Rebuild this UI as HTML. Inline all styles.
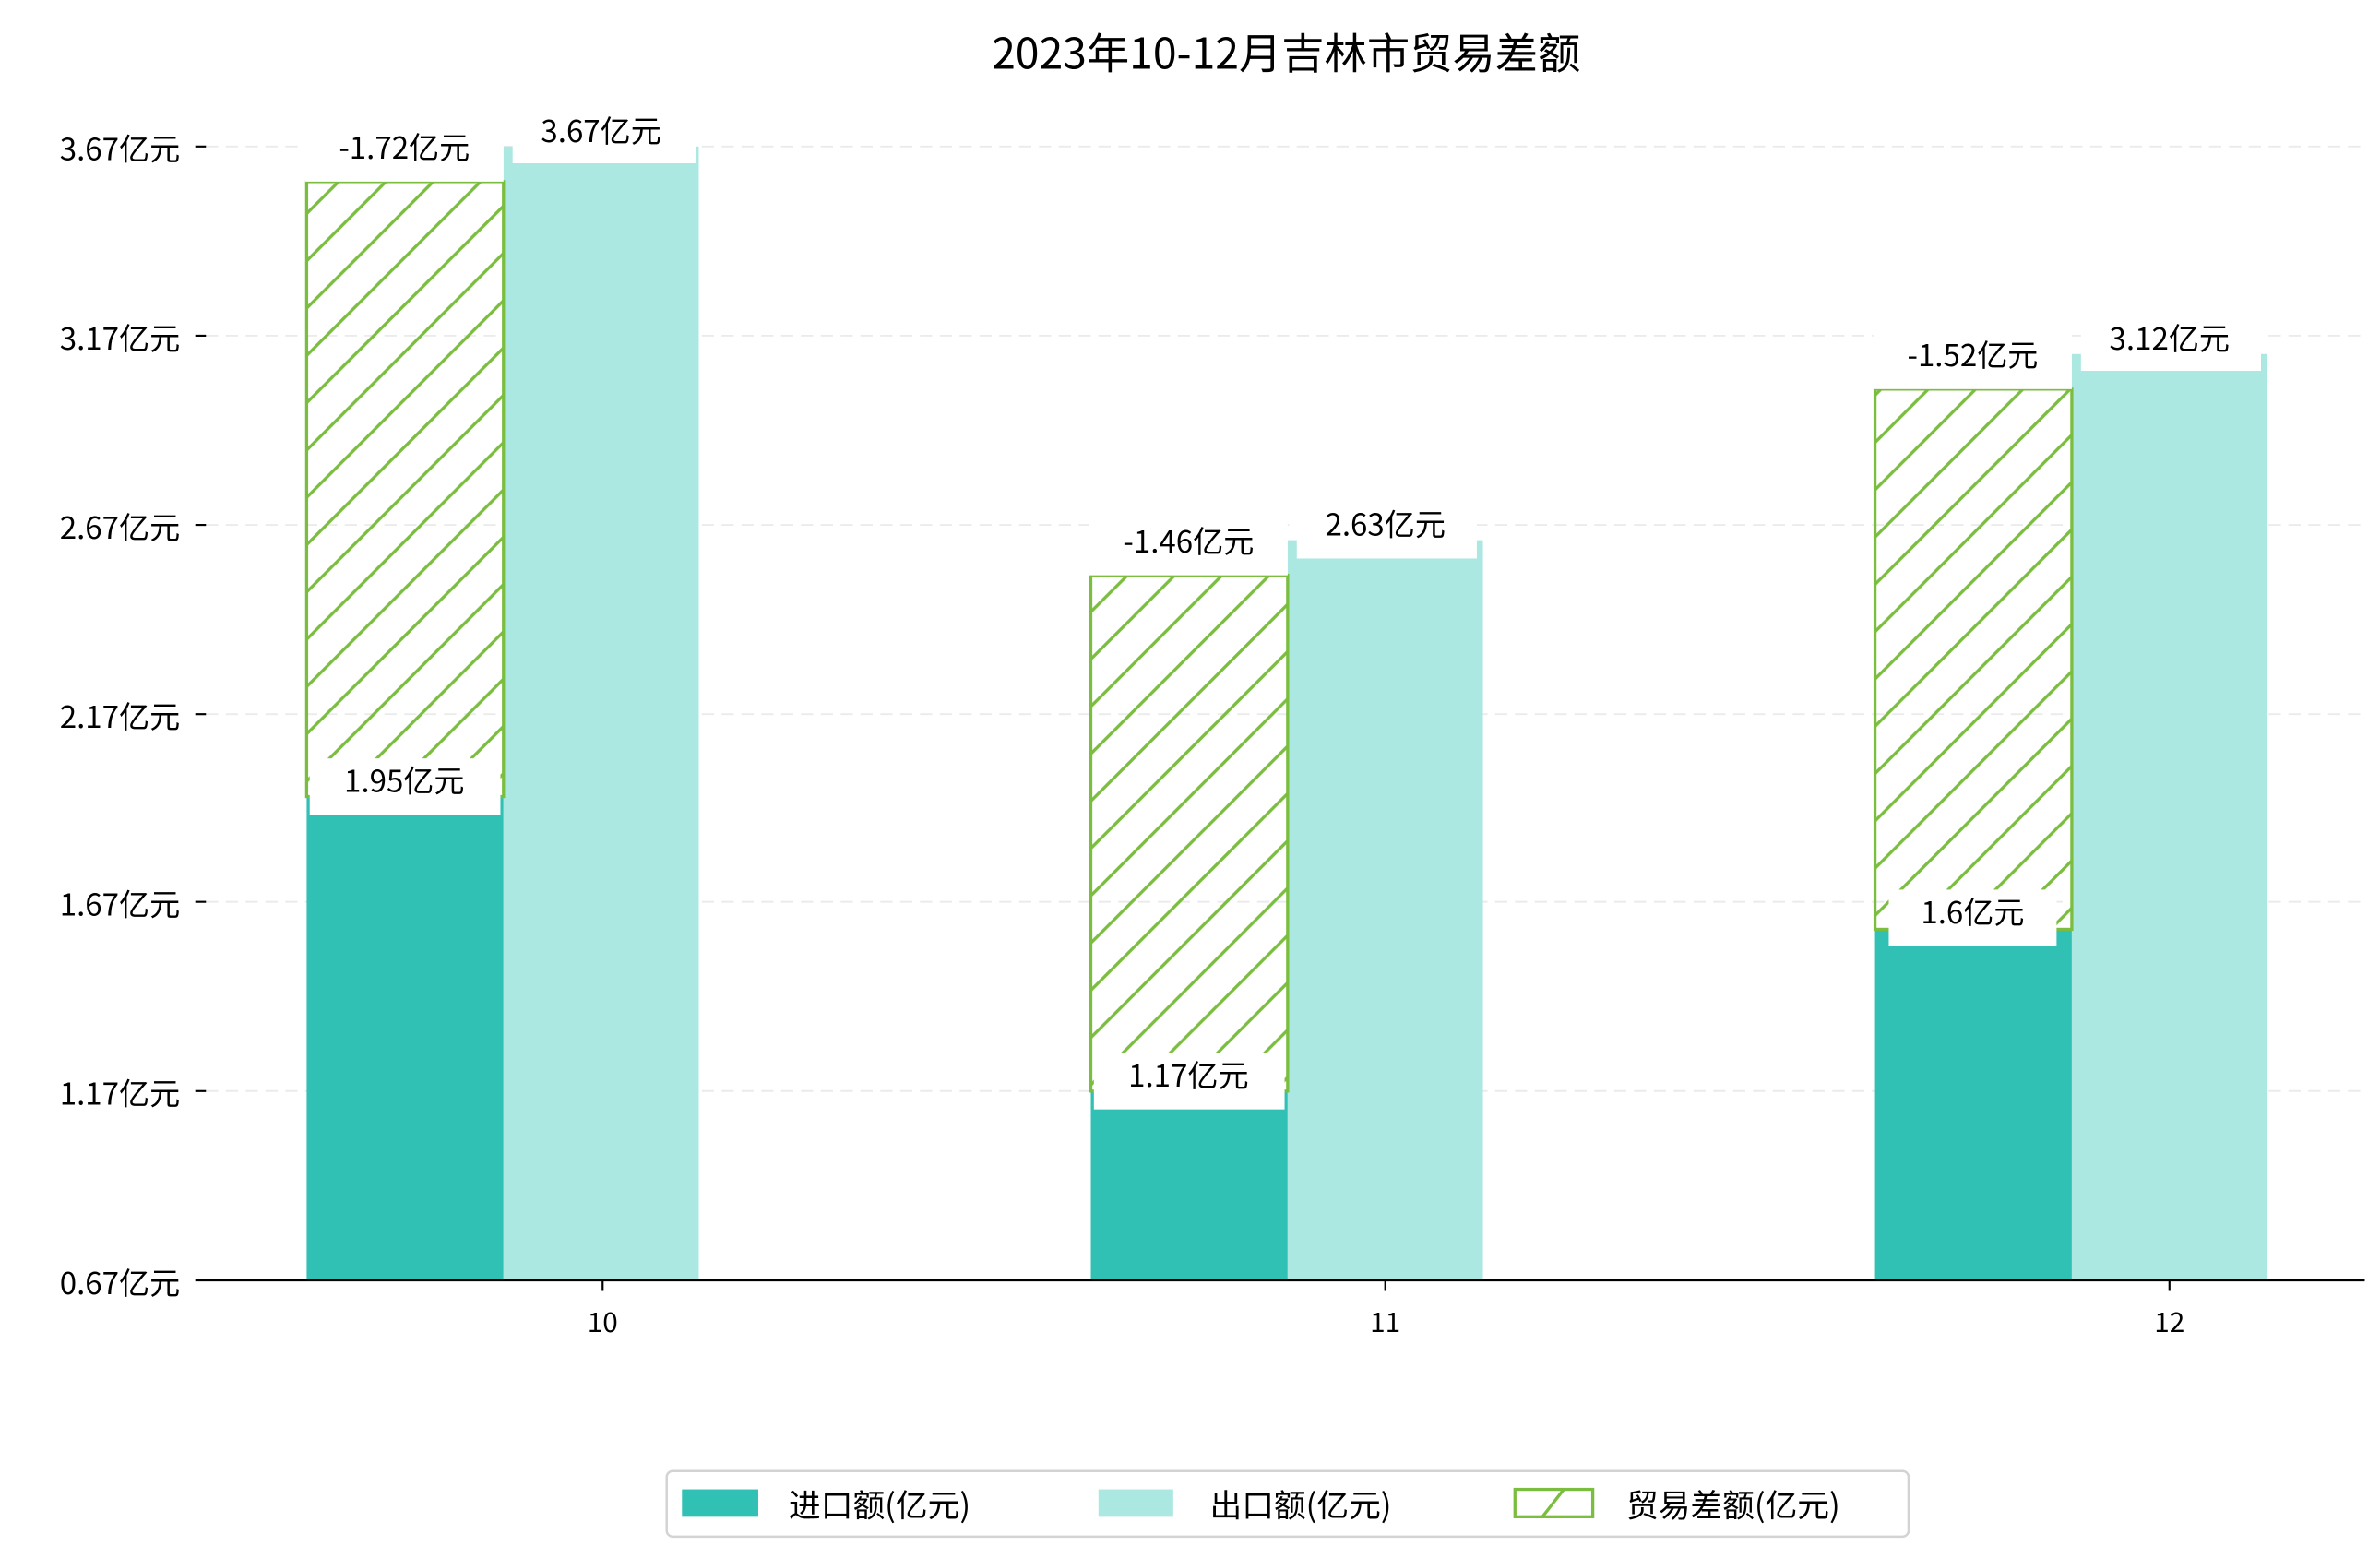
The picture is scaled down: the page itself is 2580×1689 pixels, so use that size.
<!DOCTYPE html>
<html><head><meta charset="utf-8"><style>
html,body{margin:0;padding:0;background:#fff;}
svg{display:block;}
text{font-family:"WenQuanYi Zen Hei","Noto Sans CJK SC",sans-serif;fill:#000;}
</style></head><body>
<svg width="2580" height="1689" viewBox="0 0 1560 1021" preserveAspectRatio="none" xmlns="http://www.w3.org/2000/svg">
<defs>
<pattern id="h" patternUnits="userSpaceOnUse" width="31" height="31">
<path d="M-4,35 L35,-4 M-4,4 L4,-4 M27,35 L35,27" stroke="#7abd3f" stroke-width="2"/>
</pattern>
</defs>
<text x="843" y="45" font-size="28" text-anchor="middle">2023年10-12月吉林市贸易差额</text>
<g stroke="#ebebeb" stroke-width="1.2" stroke-dasharray="8,5">
<line x1="135" y1="96" x2="1550" y2="96"/><line x1="135" y1="220" x2="1550" y2="220"/>
<line x1="135" y1="344" x2="1550" y2="344"/><line x1="135" y1="468" x2="1550" y2="468"/>
<line x1="135" y1="591" x2="1550" y2="591"/><line x1="135" y1="715" x2="1550" y2="715"/>
</g>
<g font-size="20" text-anchor="end">
<text x="118" y="105">3.67亿元</text><text x="118" y="229">3.17亿元</text>
<text x="118" y="353">2.67亿元</text><text x="118" y="477">2.17亿元</text>
<text x="118" y="600">1.67亿元</text><text x="118" y="724">1.17亿元</text>
<text x="118" y="848">0.67亿元</text>
</g>
<g stroke="#000" stroke-width="1.3">
<line x1="128" y1="96" x2="135" y2="96"/><line x1="128" y1="220" x2="135" y2="220"/>
<line x1="128" y1="344" x2="135" y2="344"/><line x1="128" y1="468" x2="135" y2="468"/>
<line x1="128" y1="591" x2="135" y2="591"/><line x1="128" y1="715" x2="135" y2="715"/>
</g>
<g fill="#30c0b4">
<rect x="201" y="522" width="129" height="317"/>
<rect x="715" y="715" width="129" height="124"/>
<rect x="1229" y="609" width="129" height="230"/>
</g>
<g fill="#abe8e2">
<rect x="330" y="96" width="128" height="743"/>
<rect x="844" y="354" width="128" height="485"/>
<rect x="1358" y="232" width="128" height="607"/>
</g>
<g fill="url(#h)" stroke="#7abd3f" stroke-width="2">
<rect x="201" y="119" width="129" height="403"/>
<rect x="715" y="377" width="129" height="338"/>
<rect x="1229" y="255" width="129" height="354"/>
</g>
<g fill="#fff">
<rect x="200" y="78" width="130" height="41"/>
<rect x="336" y="72" width="120" height="35"/>
<rect x="203" y="497" width="125" height="37"/>
<rect x="714" y="338" width="130" height="39"/>
<rect x="850" y="330" width="118" height="36"/>
<rect x="717" y="690" width="125" height="37"/>
<rect x="1228" y="216" width="130" height="39"/>
<rect x="1364" y="207" width="118" height="36"/>
<rect x="1238" y="583" width="110" height="37"/>
</g>
<g font-size="20" text-anchor="middle">
<text x="265" y="104">-1.72亿元</text>
<text x="394" y="93">3.67亿元</text>
<text x="265" y="519">1.95亿元</text>
<text x="779" y="362">-1.46亿元</text>
<text x="908" y="351">2.63亿元</text>
<text x="779" y="712">1.17亿元</text>
<text x="1293" y="240">-1.52亿元</text>
<text x="1422" y="229">3.12亿元</text>
<text x="1293" y="605">1.6亿元</text>
</g>
<line x1="128" y1="839" x2="1550" y2="839" stroke="#000" stroke-width="1.5"/>
<g stroke="#000" stroke-width="1.3">
<line x1="395" y1="839" x2="395" y2="846"/><line x1="908" y1="839" x2="908" y2="846"/><line x1="1422" y1="839" x2="1422" y2="846"/>
</g>
<g font-size="18" text-anchor="middle">
<text x="395" y="873">10</text><text x="908" y="873">11</text><text x="1422" y="873">12</text>
</g>
<rect x="437" y="964" width="814" height="43" rx="4" fill="#fff" stroke="#d3d3d3" stroke-width="1.5"/>
<rect x="447" y="976" width="50" height="18" fill="#30c0b4"/>
<rect x="720" y="976" width="49" height="18" fill="#abe8e2"/>
<rect x="993" y="976" width="51" height="18" fill="#fff" stroke="#7abd3f" stroke-width="2"/>
<line x1="1011" y1="994" x2="1025" y2="976" stroke="#7abd3f" stroke-width="2"/>
<g font-size="21">
<text x="517" y="994">进口额(亿元)</text>
<text x="793" y="994">出口额(亿元)</text>
<text x="1066" y="994">贸易差额(亿元)</text>
</g>
</svg>
</body></html>
